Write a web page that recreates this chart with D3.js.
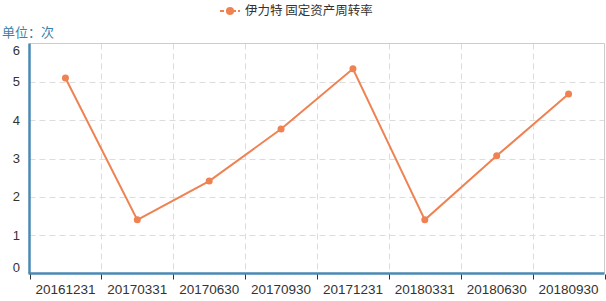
<!DOCTYPE html>
<html>
<head>
<meta charset="utf-8">
<script src="https://cdn.jsdelivr.net/npm/d3@7"></script>
<style>
  body { margin: 0; background: #fff; }
  text { font-family: "Microsoft YaHei", "Noto Sans CJK SC", Arial, sans-serif; }
  text.num { font-family: "Liberation Sans", Arial, sans-serif; }
</style>
</head>
<body>
<script>
var categories = ["20161231", "20170331", "20170630", "20170930", "20171231", "20180331", "20180630", "20180930"];
var values = [5.10, 1.40, 2.41, 3.77, 5.34, 1.40, 3.07, 4.68];
var yTicks = [0, 1, 2, 3, 4, 5, 6];
var seriesName = "伊力特 固定资产周转率";
var unitLabel = "单位：次";

var width = 606, height = 301;
var margin = {top: 43.5, right: 1.5, bottom: 27.5, left: 29.5};
var lineColor = "#ef8252";
var axisColor = "#4b88b4";

var svg = d3.select("body").append("svg")
    .attr("width", width)
    .attr("height", height);

var x = d3.scaleBand()
    .domain(categories)
    .range([margin.left, width - margin.right]);

var y = d3.scaleLinear()
    .domain([0, 6])
    .range([height - margin.bottom, margin.top]);

// grid
svg.append("g").selectAll("line")
    .data(yTicks.filter(function(d) { return d > 0 && d < 6; }))
  .enter().append("line")
    .attr("x1", margin.left).attr("x2", width - margin.right)
    .attr("y1", function(d) { return Math.round(y(d)) + 0.5; })
    .attr("y2", function(d) { return Math.round(y(d)) + 0.5; })
    .attr("stroke", "#dcdcdc")
    .attr("stroke-dasharray", "6,4");

svg.append("g").selectAll("line")
    .data(categories.slice(1))
  .enter().append("line")
    .attr("x1", function(d) { return Math.round(x(d)) + 0.5; })
    .attr("x2", function(d) { return Math.round(x(d)) + 0.5; })
    .attr("y1", margin.top).attr("y2", height - margin.bottom)
    .attr("stroke", "#dcdcdc")
    .attr("stroke-dasharray", "6,4");

// top + right border
svg.append("path")
    .attr("d", "M" + margin.left + "," + margin.top + "H" + (width - margin.right) + "V" + (height - margin.bottom))
    .attr("fill", "none")
    .attr("stroke", "#cccccc");

// x axis
var xAxis = svg.append("g")
    .attr("transform", "translate(0," + (height - margin.bottom) + ")");

xAxis.append("line")
    .attr("x1", margin.left - 1).attr("x2", width - margin.right)
    .attr("stroke", axisColor)
    .attr("stroke-width", 2.5);

xAxis.selectAll(".tick")
    .data(categories.concat(["end"]))
  .enter().append("line")
    .attr("x1", function(d, i) { return Math.round(margin.left + i * x.bandwidth()) + 0.5; })
    .attr("x2", function(d, i) { return Math.round(margin.left + i * x.bandwidth()) + 0.5; })
    .attr("y1", 1).attr("y2", 6)
    .attr("stroke", "#333");

xAxis.selectAll("text")
    .data(categories)
  .enter().append("text")
    .attr("class", "num")
    .attr("x", function(d) { return x(d) + x.bandwidth() / 2; })
    .attr("y", 20)
    .attr("text-anchor", "middle")
    .attr("fill", "#333")
    .style("font-size", "13.5px")
    .text(function(d) { return d; });

// y axis
svg.append("line")
    .attr("x1", margin.left).attr("x2", margin.left)
    .attr("y1", margin.top).attr("y2", height - margin.bottom)
    .attr("stroke", axisColor)
    .attr("stroke-width", 2.5);

svg.append("g").selectAll("text")
    .data(yTicks)
  .enter().append("text")
    .attr("class", "num")
    .attr("x", 20)
    .attr("y", function(d) {
      var p = y(d);
      if (d === 0) p -= 6;
      if (d === 6) p += 7;
      return p;
    })
    .attr("dy", "0.35em")
    .attr("text-anchor", "end")
    .attr("fill", "#333")
    .style("font-size", "13px")
    .text(function(d) { return d; });

svg.append("text")
    .attr("x", 2)
    .attr("y", 37)
    .attr("fill", "#3d7fa8")
    .style("font-size", "13px")
    .text(unitLabel);

// series
var line = d3.line()
    .x(function(d, i) { return x(categories[i]) + x.bandwidth() / 2; })
    .y(function(d) { return y(d); });

svg.append("path")
    .datum(values)
    .attr("d", line)
    .attr("fill", "none")
    .attr("stroke", lineColor)
    .attr("stroke-width", 2);

svg.append("g").selectAll("circle")
    .data(values)
  .enter().append("circle")
    .attr("cx", function(d, i) { return x(categories[i]) + x.bandwidth() / 2; })
    .attr("cy", function(d) { return y(d); })
    .attr("r", 3.5)
    .attr("fill", lineColor);

// legend
var legend = svg.append("g").attr("transform", "translate(0,11)");
legend.append("line")
    .attr("x1", 220).attr("x2", 240)
    .attr("stroke", lineColor)
    .attr("stroke-width", 2)
    .attr("stroke-dasharray", "4,2");
legend.append("circle")
    .attr("cx", 230).attr("r", 4)
    .attr("fill", lineColor);
legend.append("text")
    .attr("x", 245)
    .attr("dy", "0.35em")
    .attr("fill", "#333")
    .style("font-size", "12.5px")
    .text(seriesName);
</script>
</body>
</html>
